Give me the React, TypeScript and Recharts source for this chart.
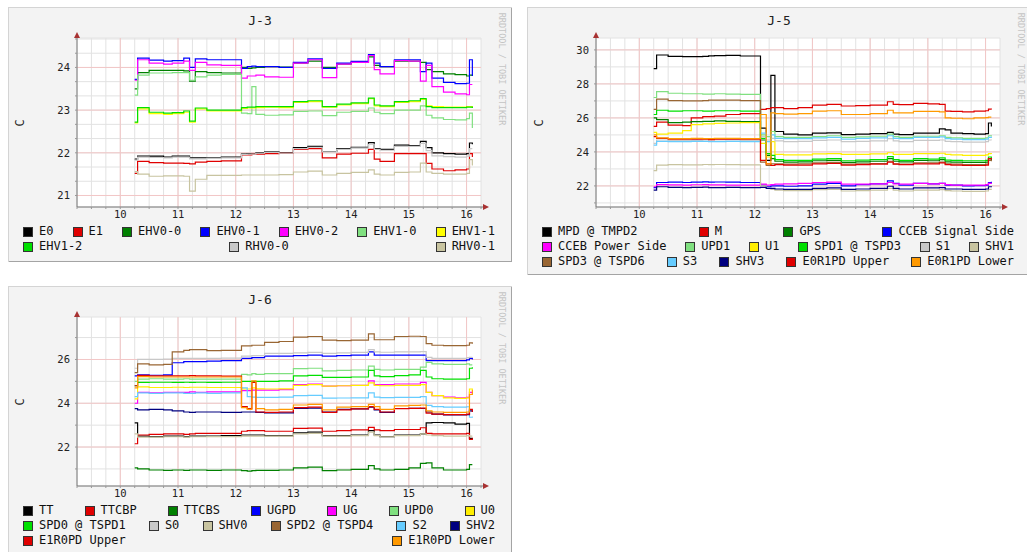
import { LineChart, Line, XAxis, YAxis, CartesianGrid, ReferenceLine } from 'recharts';

const MONO = '"DejaVu Sans Mono", monospace';

// sample times (days), shared by all three graphs
const T = [10.25, 10.3, 10.5, 10.75, 10.9, 11.1, 11.2, 11.3, 11.5, 11.75, 12.1, 12.2, 12.28, 12.35, 12.5, 12.75, 13.0, 13.25, 13.5, 13.75, 14.0, 14.3, 14.4, 14.5, 14.75, 15.0, 15.2, 15.3, 15.4, 15.6, 15.8, 16.0, 16.05, 16.1];
const X_LABELS = [10, 11, 12, 13, 14, 15, 16];

// J-3
const J3_E0 = [21.85, 21.92, 21.92, 21.9, 21.92, 21.92, 21.88, 21.88, 21.88, 21.9, 21.97, 21.98, 21.98, 22.0, 22.02, 22.0, 22.12, 22.15, 22.03, 22.1, 22.13, 22.24, 22.1, 22.08, 22.18, 22.17, 22.27, 22.12, 22.0, 21.98, 21.97, 21.98, 22.23, 22.2];
const J3_E1 = [21.52, 21.8, 21.77, 21.76, 21.76, 21.75, 21.74, 21.78, 21.8, 21.81, 21.95, 21.95, 21.97, 21.97, 21.98, 21.99, 22.08, 22.1, 21.88, 21.97, 21.99, 22.08, 21.85, 21.8, 21.98, 21.98, 21.98, 21.75, 21.62, 21.58, 21.6, 21.62, 21.98, 21.9];
const J3_EHV0_0 = [23.5, 23.88, 23.93, 23.93, 23.93, 23.92, 23.68, 23.9, 23.88, 23.87, 24.0, 23.98, 23.99, 24.0, 24.02, 24.01, 24.1, 24.15, 24.0, 24.08, 24.12, 24.25, 24.05, 24.02, 24.15, 24.15, 24.12, 23.95, 23.9, 23.85, 23.83, 23.8, 23.82, 23.8];
const J3_EHV0_1 = [23.72, 24.22, 24.17, 24.15, 24.16, 24.22, 24.0, 24.2, 24.18, 24.18, 23.98, 24.02, 24.03, 24.02, 24.02, 24.0, 24.12, 24.2, 23.98, 24.1, 24.14, 24.3, 24.1, 24.02, 24.18, 24.18, 23.9, 24.1, 23.75, 23.65, 23.62, 23.63, 24.18, 23.8];
const J3_EHV0_2 = [23.7, 24.18, 24.1, 24.08, 24.1, 24.15, 23.93, 24.12, 24.06, 24.05, 23.75, 23.8, 23.8, 23.82, 23.78, 23.77, 24.1, 24.18, 23.76, 24.08, 24.12, 24.28, 23.95, 23.85, 24.16, 24.15, 23.68, 24.05, 23.55, 23.42, 23.38, 23.36, 23.6, 23.6];
const J3_EHV1_0 = [23.35, 23.82, 23.87, 23.87, 23.88, 23.88, 23.7, 23.78, 23.82, 23.84, 22.93, 22.92, 23.55, 22.9, 22.88, 22.89, 22.97, 22.98, 22.87, 22.95, 22.97, 23.05, 22.95, 22.92, 23.0, 23.0, 23.1, 22.88, 22.82, 22.78, 22.77, 22.8, 22.93, 22.58];
const J3_EHV1_1 = [22.7, 23.03, 22.92, 22.9, 22.92, 22.95, 22.72, 23.03, 22.98, 22.98, 23.04, 23.05, 23.05, 23.06, 23.07, 23.06, 23.18, 23.2, 23.07, 23.12, 23.15, 23.27, 23.1, 23.08, 23.18, 23.2, 23.25, 23.1, 23.08, 23.07, 23.07, 23.08, 23.08, 23.06];
const J3_EHV1_2 = [22.72, 23.06, 22.95, 22.93, 22.94, 22.98, 22.74, 23.05, 23.0, 23.0, 23.06, 23.07, 23.07, 23.08, 23.08, 23.08, 23.2, 23.22, 23.08, 23.14, 23.17, 23.28, 23.12, 23.1, 23.2, 23.22, 23.27, 23.08, 23.06, 23.06, 23.06, 23.07, 23.07, 23.05];
const J3_RHV0_0 = [21.83, 21.9, 21.89, 21.88, 21.9, 21.9, 21.86, 21.86, 21.87, 21.88, 21.96, 21.97, 21.97, 21.99, 22.01, 21.99, 22.1, 22.13, 22.02, 22.08, 22.11, 22.2, 22.08, 22.06, 22.15, 22.15, 22.22, 22.05, 21.93, 21.91, 21.9, 21.92, 22.1, 22.1];
const J3_RHV0_1 = [21.56, 21.5, 21.45, 21.46, 21.46, 21.45, 21.1, 21.38, 21.47, 21.47, 21.48, 21.48, 21.48, 21.48, 21.48, 21.49, 21.55, 21.57, 21.48, 21.52, 21.54, 21.6, 21.5, 21.48, 21.54, 21.55, 21.76, 21.55, 21.52, 21.5, 21.5, 21.52, 21.84, 21.7];

// J-5
const J5_MPD = [28.9, 29.7, 29.62, 29.6, 29.6, 29.62, 29.65, 29.66, 29.68, 29.64, 25.4, 23.5, 28.5, 25.2, 25.05, 25.0, 25.1, 25.12, 25.02, 25.05, 25.08, 25.15, 25.05, 25.02, 25.1, 25.1, 25.35, 25.3, 25.1, 25.08, 25.05, 25.08, 25.7, 25.5];
const J5_M = [25.5, 25.75, 25.58, 25.55, 26.0, 26.08, 26.08, 26.1, 26.2, 26.25, 26.5, 26.55, 26.6, 26.6, 26.55, 26.6, 26.75, 26.8, 26.7, 26.72, 26.75, 26.95, 26.8, 26.78, 26.85, 26.82, 26.8, 26.4, 26.38, 26.35, 26.4, 26.42, 26.52, 26.5];
const J5_GPS = [26.0, 25.9, 25.72, 25.75, 25.78, 25.8, 25.8, 25.82, 25.8, 25.78, 24.7, 23.8, 23.6, 23.45, 23.4, 23.42, 23.48, 23.5, 23.38, 23.42, 23.45, 23.6, 23.45, 23.42, 23.5, 23.48, 23.55, 23.42, 23.4, 23.38, 23.38, 23.4, 23.6, 23.5];
const J5_SIGNAL = [21.9, 22.2, 22.22, 22.2, 22.22, 22.24, 22.22, 22.23, 22.22, 22.2, 22.05, 21.95, 22.0, 22.0, 21.98, 22.0, 22.1, 22.15, 22.0, 22.08, 22.12, 22.3, 22.15, 22.05, 22.15, 22.12, 22.15, 22.05, 22.05, 22.0, 22.02, 22.05, 22.2, 22.25];
const J5_POWER = [21.95, 22.08, 22.06, 22.05, 22.07, 22.08, 22.06, 22.06, 22.05, 22.05, 22.1, 22.05, 22.08, 22.1, 22.12, 22.15, 22.2, 22.22, 22.1, 22.1, 22.12, 22.2, 22.12, 22.1, 22.15, 22.12, 22.15, 22.08, 22.05, 22.05, 22.05, 22.08, 22.15, 22.12];
const J5_UPD1 = [27.2, 27.55, 27.45, 27.42, 27.42, 27.4, 27.4, 27.42, 27.4, 27.38, 25.0, 24.9, 25.2, 24.9, 24.85, 24.85, 24.9, 24.95, 24.85, 24.88, 24.92, 25.05, 24.9, 24.85, 24.92, 24.92, 24.95, 24.85, 24.82, 24.8, 24.8, 24.82, 24.95, 24.9];
const J5_U1 = [25.15, 25.05, 25.1, 25.25, 25.6, 25.65, 25.65, 25.68, 25.7, 25.72, 24.5, 23.7, 24.6, 23.85, 23.82, 23.82, 23.88, 23.9, 23.85, 23.85, 23.88, 23.95, 23.85, 23.85, 23.9, 23.9, 23.92, 23.85, 23.82, 23.8, 23.8, 23.82, 23.9, 23.88];
const J5_SPD1 = [26.2, 26.45, 26.4, 26.42, 26.42, 26.4, 26.4, 26.42, 26.42, 26.4, 24.8, 23.9, 23.8, 23.55, 23.5, 23.5, 23.58, 23.6, 23.48, 23.52, 23.55, 23.72, 23.55, 23.5, 23.6, 23.58, 23.65, 23.52, 23.5, 23.48, 23.48, 23.5, 23.7, 23.6];
const J5_S1 = [24.5, 24.7, 24.68, 24.68, 24.68, 24.7, 24.7, 24.7, 24.7, 24.68, 24.9, 24.7, 24.8, 24.65, 24.6, 24.62, 24.68, 24.7, 24.6, 24.62, 24.65, 24.78, 24.65, 24.6, 24.68, 24.68, 24.7, 24.62, 24.6, 24.58, 24.58, 24.6, 24.7, 24.68];
const J5_SHV1 = [22.9, 23.22, 23.25, 23.24, 23.24, 23.26, 23.25, 23.26, 23.25, 23.24, 22.0, 21.85, 21.8, 21.75, 21.72, 21.72, 21.78, 21.8, 21.7, 21.72, 21.75, 21.85, 21.75, 21.7, 21.75, 21.75, 21.78, 21.72, 21.7, 21.68, 21.68, 21.7, 21.8, 21.78];
const J5_SPD3 = [26.5, 27.1, 27.02, 27.0, 27.0, 27.02, 27.05, 27.05, 27.05, 27.02, 23.4, 23.2, 23.3, 23.3, 23.28, 23.3, 23.35, 23.38, 23.28, 23.3, 23.32, 23.45, 23.3, 23.28, 23.35, 23.35, 23.4, 23.3, 23.28, 23.25, 23.25, 23.28, 23.5, 23.45];
const J5_S3 = [24.4, 24.62, 24.6, 24.6, 24.62, 24.62, 24.6, 24.6, 24.62, 24.6, 25.1, 24.6, 25.0, 24.8, 24.78, 24.78, 24.82, 24.85, 24.75, 24.8, 24.82, 24.95, 24.8, 24.78, 24.85, 24.85, 24.88, 24.78, 24.75, 24.72, 24.72, 24.75, 24.85, 24.82];
const J5_SHV3 = [21.75, 21.95, 21.92, 21.9, 21.92, 21.93, 21.9, 21.9, 21.92, 21.9, 21.92, 21.85, 21.85, 21.82, 21.8, 21.8, 21.85, 21.88, 21.8, 21.82, 21.85, 21.98, 21.85, 21.82, 21.88, 21.88, 21.9, 21.82, 21.82, 21.8, 21.8, 21.82, 21.95, 21.92];
const J5_E0R1_UP = [24.9, 24.8, 24.75, 24.75, 24.75, 24.75, 24.72, 24.75, 24.75, 24.75, 23.5, 23.3, 23.2, 23.25, 23.22, 23.22, 23.3, 23.32, 23.22, 23.25, 23.28, 23.4, 23.28, 23.25, 23.3, 23.3, 23.35, 23.25, 23.22, 23.2, 23.2, 23.22, 23.6, 23.55];
const J5_E0R1_LO = [25.0, 24.82, 24.78, 24.78, 24.8, 24.78, 24.78, 24.8, 24.8, 24.78, 26.2, 23.3, 26.3, 26.25, 26.22, 26.25, 26.4, 26.42, 26.2, 26.2, 26.25, 26.45, 26.3, 26.3, 26.38, 26.38, 26.35, 26.0, 25.98, 25.95, 26.0, 26.02, 26.05, 26.05];

// J-6
const J6_TT = [23.1, 22.5, 22.48, 22.5, 22.5, 22.48, 22.5, 22.5, 22.5, 22.52, 22.55, 22.55, 22.55, 22.55, 22.52, 22.52, 22.65, 22.68, 22.52, 22.52, 22.55, 22.75, 22.55, 22.48, 22.55, 22.55, 22.6, 23.1, 23.12, 23.1, 23.05, 23.08, 22.4, 22.35];
const J6_TTCBP = [22.15, 22.55, 22.58, 22.6, 22.6, 22.58, 22.6, 22.62, 22.62, 22.62, 22.72, 22.75, 22.75, 22.75, 22.72, 22.72, 22.85, 22.86, 22.72, 22.75, 22.78, 22.9, 22.78, 22.75, 22.8, 22.8, 22.88, 22.62, 22.6, 22.6, 22.6, 22.62, 22.35, 22.4];
const J6_TTCBS = [21.05, 21.0, 20.95, 20.93, 20.95, 20.93, 20.95, 20.95, 20.93, 20.95, 20.92, 20.9, 20.92, 20.93, 20.93, 20.95, 21.05, 21.08, 20.92, 20.95, 20.98, 21.15, 21.0, 20.95, 20.98, 21.05, 21.25, 21.28, 21.05, 20.95, 20.95, 20.98, 21.2, 21.2];
const J6_UGPD = [25.25, 25.3, 25.28, 25.3, 25.85, 25.9, 25.9, 25.9, 25.92, 25.95, 26.05, 26.05, 26.08, 26.08, 26.15, 26.15, 26.18, 26.2, 26.15, 26.18, 26.2, 26.35, 26.2, 26.2, 26.2, 26.2, 26.2, 25.95, 25.95, 25.95, 25.95, 25.98, 26.05, 26.0];
const J6_UG = [24.0, 24.5, 24.48, 24.5, 24.5, 24.5, 24.52, 24.5, 24.52, 24.52, 24.58, 24.58, 24.6, 24.6, 24.6, 24.62, 24.85, 24.88, 24.78, 24.8, 24.82, 25.02, 24.85, 24.85, 24.88, 24.88, 24.95, 24.5, 24.35, 24.28, 24.25, 24.27, 24.5, 24.45];
const J6_UPD0 = [25.0, 25.1, 25.12, 25.1, 25.1, 25.12, 25.1, 25.1, 25.1, 25.1, 25.32, 25.3, 25.35, 25.32, 25.35, 25.35, 25.58, 25.6, 25.48, 25.5, 25.52, 25.7, 25.55, 25.52, 25.55, 25.55, 25.65, 25.87, 25.8, 25.78, 25.78, 25.8, 25.75, 25.75];
const J6_U0 = [24.2, 24.75, 24.72, 24.72, 24.73, 24.72, 24.73, 24.73, 24.72, 24.72, 24.65, 24.65, 24.7, 24.66, 24.65, 24.66, 24.82, 24.85, 24.78, 24.8, 24.82, 24.93, 24.82, 24.8, 24.82, 24.82, 24.85, 24.5, 24.35, 24.25, 24.22, 24.25, 24.65, 24.6];
const J6_SPD0 = [24.8, 24.95, 24.96, 24.96, 24.95, 24.96, 24.95, 24.96, 24.95, 24.96, 25.0, 25.0, 25.0, 25.0, 25.0, 25.02, 25.25, 25.27, 25.18, 25.18, 25.2, 25.5, 25.25, 25.22, 25.26, 25.3, 25.5, 25.2, 25.12, 25.1, 25.1, 25.12, 25.6, 25.64];
const J6_S0 = [25.6, 26.0, 26.0, 26.02, 26.05, 26.05, 26.05, 26.05, 26.05, 26.06, 26.15, 26.15, 26.18, 26.18, 26.28, 26.28, 26.3, 26.32, 26.28, 26.3, 26.32, 26.45, 26.35, 26.33, 26.35, 26.35, 26.36, 26.1, 26.05, 26.05, 26.05, 26.08, 26.1, 26.1];
const J6_SHV0 = [22.6, 22.45, 22.45, 22.47, 22.47, 22.45, 22.47, 22.47, 22.48, 22.48, 22.5, 22.5, 22.5, 22.5, 22.5, 22.5, 22.6, 22.62, 22.5, 22.5, 22.52, 22.68, 22.52, 22.47, 22.52, 22.52, 22.6, 22.55, 22.52, 22.5, 22.5, 22.52, 22.5, 22.5];
const J6_SPD2 = [25.4, 25.8, 25.75, 25.78, 26.35, 26.42, 26.45, 26.45, 26.4, 26.42, 26.62, 26.62, 26.65, 26.65, 26.78, 26.82, 27.02, 27.05, 26.88, 26.86, 26.88, 27.17, 26.9, 26.9, 27.05, 27.06, 27.05, 26.72, 26.65, 26.63, 26.63, 26.65, 26.76, 26.72];
const J6_S2 = [24.3, 24.47, 24.45, 24.47, 24.47, 24.45, 24.45, 24.47, 24.45, 24.47, 24.7, 24.3, 24.28, 24.27, 24.27, 24.28, 24.35, 24.36, 24.23, 24.24, 24.25, 24.47, 24.28, 24.26, 24.27, 24.27, 24.3, 23.9, 23.85, 23.82, 23.82, 23.84, 23.36, 23.4];
const J6_SHV2 = [23.75, 23.7, 23.72, 23.7, 23.65, 23.6, 23.58, 23.6, 23.6, 23.58, 23.6, 23.6, 23.6, 23.58, 23.56, 23.56, 23.77, 23.78, 23.6, 23.72, 23.74, 23.82, 23.7, 23.58, 23.76, 23.77, 23.76, 23.6, 23.5, 23.47, 23.47, 23.48, 23.65, 23.6];
const J6_E1R0_UP = [24.8, 25.27, 25.25, 25.25, 25.25, 25.25, 25.26, 25.25, 25.25, 25.24, 23.85, 23.75, 24.95, 23.6, 23.58, 23.6, 23.8, 23.82, 23.58, 23.7, 23.74, 23.85, 23.72, 23.6, 23.75, 23.77, 23.78, 23.55, 23.5, 23.48, 23.48, 23.5, 23.72, 23.6];
const J6_E1R0_LO = [24.7, 25.22, 25.2, 25.2, 25.2, 25.2, 25.2, 25.2, 25.2, 25.2, 23.8, 23.72, 25.02, 23.75, 23.7, 23.72, 23.92, 23.95, 23.7, 23.82, 23.85, 23.95, 23.85, 23.72, 23.88, 23.9, 23.92, 23.65, 23.6, 23.58, 23.58, 23.6, 24.4, 24.6];

type Series = { name: string; color: string; values: number[] };

const J3_SERIES: Series[] = [
  { name: 'E0', color: '#000000', values: J3_E0 },
  { name: 'E1', color: '#e00000', values: J3_E1 },
  { name: 'EHV0-0', color: '#008000', values: J3_EHV0_0 },
  { name: 'EHV0-1', color: '#0000ff', values: J3_EHV0_1 },
  { name: 'EHV0-2', color: '#ff00ff', values: J3_EHV0_2 },
  { name: 'EHV1-0', color: '#80e080', values: J3_EHV1_0 },
  { name: 'EHV1-1', color: '#ffff00', values: J3_EHV1_1 },
  { name: 'EHV1-2', color: '#00e000', values: J3_EHV1_2 },
  { name: 'RHV0-0', color: '#c8c8c8', values: J3_RHV0_0 },
  { name: 'RHV0-1', color: '#c8c4a0', values: J3_RHV0_1 },
];

const J5_SERIES: Series[] = [
  { name: 'MPD @ TMPD2', color: '#000000', values: J5_MPD },
  { name: 'M', color: '#e00000', values: J5_M },
  { name: 'GPS', color: '#008000', values: J5_GPS },
  { name: 'CCEB Signal Side', color: '#0000ff', values: J5_SIGNAL },
  { name: 'CCEB Power Side', color: '#ff00ff', values: J5_POWER },
  { name: 'UPD1', color: '#80e080', values: J5_UPD1 },
  { name: 'U1', color: '#ffee00', values: J5_U1 },
  { name: 'SPD1 @ TSPD3', color: '#00e000', values: J5_SPD1 },
  { name: 'S1', color: '#c8c8c8', values: J5_S1 },
  { name: 'SHV1', color: '#c8c4a0', values: J5_SHV1 },
  { name: 'SPD3 @ TSPD6', color: '#996633', values: J5_SPD3 },
  { name: 'S3', color: '#66ccff', values: J5_S3 },
  { name: 'SHV3', color: '#000080', values: J5_SHV3 },
  { name: 'E0R1PD Upper', color: '#e00000', values: J5_E0R1_UP },
  { name: 'E0R1PD Lower', color: '#ff9900', values: J5_E0R1_LO },
];

const J6_SERIES: Series[] = [
  { name: 'TT', color: '#000000', values: J6_TT },
  { name: 'TTCBP', color: '#e00000', values: J6_TTCBP },
  { name: 'TTCBS', color: '#008000', values: J6_TTCBS },
  { name: 'UGPD', color: '#0000ff', values: J6_UGPD },
  { name: 'UG', color: '#ff00ff', values: J6_UG },
  { name: 'UPD0', color: '#80e080', values: J6_UPD0 },
  { name: 'U0', color: '#ffee00', values: J6_U0 },
  { name: 'SPD0 @ TSPD1', color: '#00e000', values: J6_SPD0 },
  { name: 'S0', color: '#c8c8c8', values: J6_S0 },
  { name: 'SHV0', color: '#c8c4a0', values: J6_SHV0 },
  { name: 'SPD2 @ TSPD4', color: '#996633', values: J6_SPD2 },
  { name: 'S2', color: '#66ccff', values: J6_S2 },
  { name: 'SHV2', color: '#000080', values: J6_SHV2 },
  { name: 'E1R0PD Upper', color: '#e00000', values: J6_E1R0_UP },
  { name: 'E1R0PD Lower', color: '#ff9900', values: J6_E1R0_LO },
];

const J3_LEGEND = [
  ['E0', 'E1', 'EHV0-0', 'EHV0-1', 'EHV0-2', 'EHV1-0', 'EHV1-1'],
  ['EHV1-2', 'RHV0-0', 'RHV0-1'],
];
const J5_LEGEND = [
  ['MPD @ TMPD2', 'M', 'GPS', 'CCEB Signal Side'],
  ['CCEB Power Side', 'UPD1', 'U1', 'SPD1 @ TSPD3', 'S1', 'SHV1'],
  ['SPD3 @ TSPD6', 'S3', 'SHV3', 'E0R1PD Upper', 'E0R1PD Lower'],
];
const J6_LEGEND = [
  ['TT', 'TTCBP', 'TTCBS', 'UGPD', 'UG', 'UPD0', 'U0'],
  ['SPD0 @ TSPD1', 'S0', 'SHV0', 'SPD2 @ TSPD4', 'S2', 'SHV2'],
  ['E1R0PD Upper', 'E1R0PD Lower'],
];

// minor grid positions
const range = (from: number, to: number, step: number) => {
  const out: number[] = [];
  for (let i = 0; from + i * step <= to + 1e-9; i++) out.push(+(from + i * step).toFixed(4));
  return out;
};
const X_MINOR = range(9.25, 16.25, 0.25);

type PanelProps = {
  title: string;
  left: number;
  top: number;
  height: number;
  series: Series[];
  legend: string[][];
  yDomain: [number, number];
  yLabels: number[];
  yMinor: number[];
};

const W = 504;
const PL = 69; // plot left
const PT = 31; // plot top
const PB = 200; // plot bottom
const PR = 473; // plot right

function Panel(p: PanelProps) {
  const rows = T.map((t, i) => {
    const r: Record<string, number> = { t };
    p.series.forEach((s, k) => {
      r['s' + k] = s.values[i];
    });
    return r;
  });
  const colorOf: Record<string, string> = {};
  p.series.forEach((s) => (colorOf[s.name] = s.color));
  const isLabel = (v: number, list: number[]) => list.some((m) => Math.abs(m - v) < 1e-6);
  const tickStyle = { fontSize: 10.5, fill: '#222', fontFamily: MONO };

  return (
    <div
      style={{
        position: 'absolute',
        left: p.left,
        top: p.top,
        width: W,
        height: p.height,
        background: '#f3f3f3',
        boxShadow: 'inset 1px 1px 0 #d4d4d4, inset -1px -1px 0 #a4a4a4',
        fontFamily: MONO,
      }}
    >
      <div style={{ position: 'absolute', left: 0, top: 6, width: W, textAlign: 'center', fontSize: 13, color: '#222', lineHeight: '15px' }}>
        {p.title}
      </div>
      <div style={{ position: 'absolute', left: 12, top: 116, transform: 'translate(-50%, -50%) rotate(-90deg)', fontSize: 12, color: '#222' }}>
        C
      </div>
      <div
        style={{
          position: 'absolute',
          left: 494,
          top: 62,
          transform: 'translate(-50%, -50%) rotate(90deg)',
          fontSize: 8.5,
          color: '#c4c4c4',
          whiteSpace: 'nowrap',
        }}
      >
        RRDTOOL / TOBI OETIKER
      </div>
      <div style={{ position: 'absolute', left: 0, top: 0 }}>
        <LineChart width={W} height={220} data={rows} margin={{ top: PT, right: W - PR, bottom: 0, left: PL - 40 }}>
          <CartesianGrid stroke="#e2e2e2" fill="#ffffff" />
          {X_LABELS.map((v) => (
            <ReferenceLine key={'x' + v} x={v} stroke="#f2c6c6" />
          ))}
          {p.yLabels.map((v) => (
            <ReferenceLine key={'y' + v} y={v} stroke="#f2c6c6" />
          ))}
          <XAxis
            dataKey="t"
            type="number"
            domain={[9.25, 16.25]}
            ticks={X_MINOR}
            interval={0}
            allowDataOverflow
            height={20}
            tickSize={2}
            tickMargin={2}
            tick={tickStyle}
            tickFormatter={(v: number) => (isLabel(v, X_LABELS) ? String(Math.round(v)) : '')}
            axisLine={{ stroke: '#777' }}
            tickLine={{ stroke: '#999' }}
          />
          <YAxis
            type="number"
            domain={p.yDomain}
            ticks={p.yMinor}
            interval={0}
            allowDataOverflow
            width={40}
            tickSize={2}
            tickMargin={5}
            tick={tickStyle}
            tickFormatter={(v: number) => (isLabel(v, p.yLabels) ? String(Math.round(v)) : '')}
            axisLine={{ stroke: '#777' }}
            tickLine={{ stroke: '#999' }}
          />
          {p.series.map((s, k) => (
            <Line
              key={s.name}
              type="stepAfter"
              dataKey={'s' + k}
              stroke={s.color}
              strokeWidth={1.2}
              dot={false}
              activeDot={false}
              isAnimationActive={false}
            />
          ))}
        </LineChart>
      </div>
      <svg style={{ position: 'absolute', left: 0, top: 0, pointerEvents: 'none' }} width={W} height={220}>
        <line x1={PL} y1={PT} x2={PL} y2={PT - 4} stroke="#777" />
        <polygon points={`${PL - 3},${PT} ${PL + 3},${PT} ${PL},${PT - 6}`} fill="#a83232" />
        <line x1={PR} y1={PB} x2={PR + 4} y2={PB} stroke="#777" />
        <polygon points={`${PR + 2},${PB - 3} ${PR + 2},${PB + 3} ${PR + 8},${PB}`} fill="#a83232" />
      </svg>
      <div style={{ position: 'absolute', left: 15, top: 217, width: 472 }}>
        {p.legend.map((row, ri) => (
          <div key={ri} style={{ display: 'flex', justifyContent: 'space-between', alignItems: 'center', height: 15 }}>
            {row.map((name) => (
              <div key={name} style={{ display: 'flex', alignItems: 'center', whiteSpace: 'pre' }}>
                <span
                  style={{
                    display: 'inline-block',
                    width: 8,
                    height: 8,
                    background: colorOf[name],
                    border: '1px solid #333',
                  }}
                />
                <span style={{ marginLeft: 6, fontSize: 12, color: '#111', lineHeight: '15px' }}>{name}</span>
              </div>
            ))}
          </div>
        ))}
      </div>
    </div>
  );
}

export default function App() {
  return (
    <div style={{ position: 'fixed', left: 0, top: 0, width: 1027, height: 552, overflow: 'hidden', background: '#ffffff' }}>
      <Panel
        title="J-3"
        left={8}
        top={7}
        height={255}
        series={J3_SERIES}
        legend={J3_LEGEND}
        yDomain={[20.73, 24.69]}
        yLabels={[21, 22, 23, 24]}
        yMinor={range(21, 24.67, 1 / 3)}
      />
      <Panel
        title="J-5"
        left={527}
        top={7}
        height={268}
        series={J5_SERIES}
        legend={J5_LEGEND}
        yDomain={[20.76, 30.7]}
        yLabels={[22, 24, 26, 28, 30]}
        yMinor={range(21, 30, 1)}
      />
      <Panel
        title="J-6"
        left={8}
        top={286}
        height={272}
        series={J6_SERIES}
        legend={J6_LEGEND}
        yDomain={[20.22, 27.94]}
        yLabels={[22, 24, 26]}
        yMinor={range(21, 27, 1)}
      />
    </div>
  );
}
